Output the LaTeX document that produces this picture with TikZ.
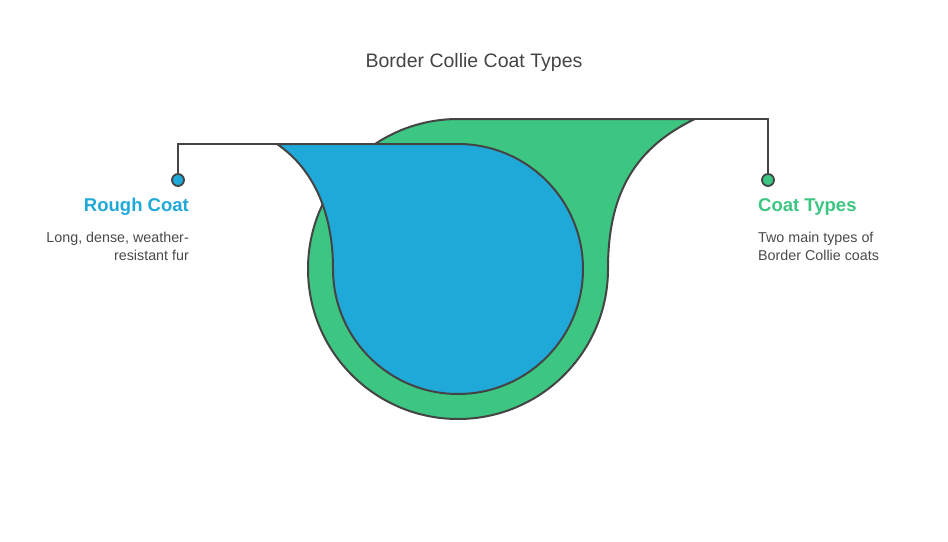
\documentclass[tikz,border=0pt]{standalone}
\usepackage{fontspec}
\setmainfont{Liberation Sans}
\usepackage{tikz}
\usetikzlibrary{positioning}
\definecolor{roughblue}{HTML}{1FA9D9}
\definecolor{typegreen}{HTML}{3CC682}
\definecolor{edgegrey}{HTML}{444444}
\definecolor{textgrey}{HTML}{4A4A4A}

\begin{document}
\begin{tikzpicture}[x=1pt,y=1pt]
\tikzset{coatshape/.style={draw=edgegrey,line width=2pt,line join=round}}
\tikzset{coatline/.style={draw=edgegrey,line width=2pt}}
\tikzset{coatdot/.style={circle,draw=edgegrey,line width=1.8pt,minimum size=12pt,inner sep=0pt}}
\tikzset{headtext/.style={font=\bfseries\fontsize{18.5}{21}\selectfont,inner sep=0pt}}
\tikzset{desctext/.style={font=\fontsize{14.3}{18}\selectfont,text=textgrey,inner sep=0pt}}
\useasboundingbox (0,0) rectangle (948,-541);
\node[font=\fontsize{19.5}{23}\selectfont,text=edgegrey,anchor=base] (title) at (474,-67) {Border Collie Coat Types};
% outer drop
\draw[coatshape,fill=typegreen] (458,-119) -- (695,-119)
   .. controls (630,-150) and (608,-200) .. (608,-269)
   arc[start angle=0,end angle=-270,radius=150] -- cycle;
% inner drop
\draw[coatshape,fill=roughblue] (277,-144) -- (458,-144)
   arc[start angle=90,end angle=-180,radius=125]
   .. controls (333,-215) and (315,-170) .. (277,-144) -- cycle;
\coordinate (roughtip) at (277,-144);
\coordinate (typetip) at (695,-119);
\node[coatdot,fill=roughblue] (roughdot) at (178,-180) {};
\node[coatdot,fill=typegreen] (typedot) at (768,-180) {};
\draw[coatline] (roughdot) |- (roughtip);
\draw[coatline] (typetip) -| (typedot);
\node[headtext,text=roughblue,anchor=base east] (roughhead) at (189,-211) {Rough Coat};
\node[desctext,align=right,anchor=north east] (roughdesc) at (189,-232) {Long, dense, weather-\\resistant fur};
\node[headtext,text=typegreen,anchor=base west] (typehead) at (758,-211) {Coat Types};
\node[desctext,align=left,anchor=north west] (typedesc) at (758,-232) {Two main types of\\Border Collie coats};
\end{tikzpicture}
\end{document}
